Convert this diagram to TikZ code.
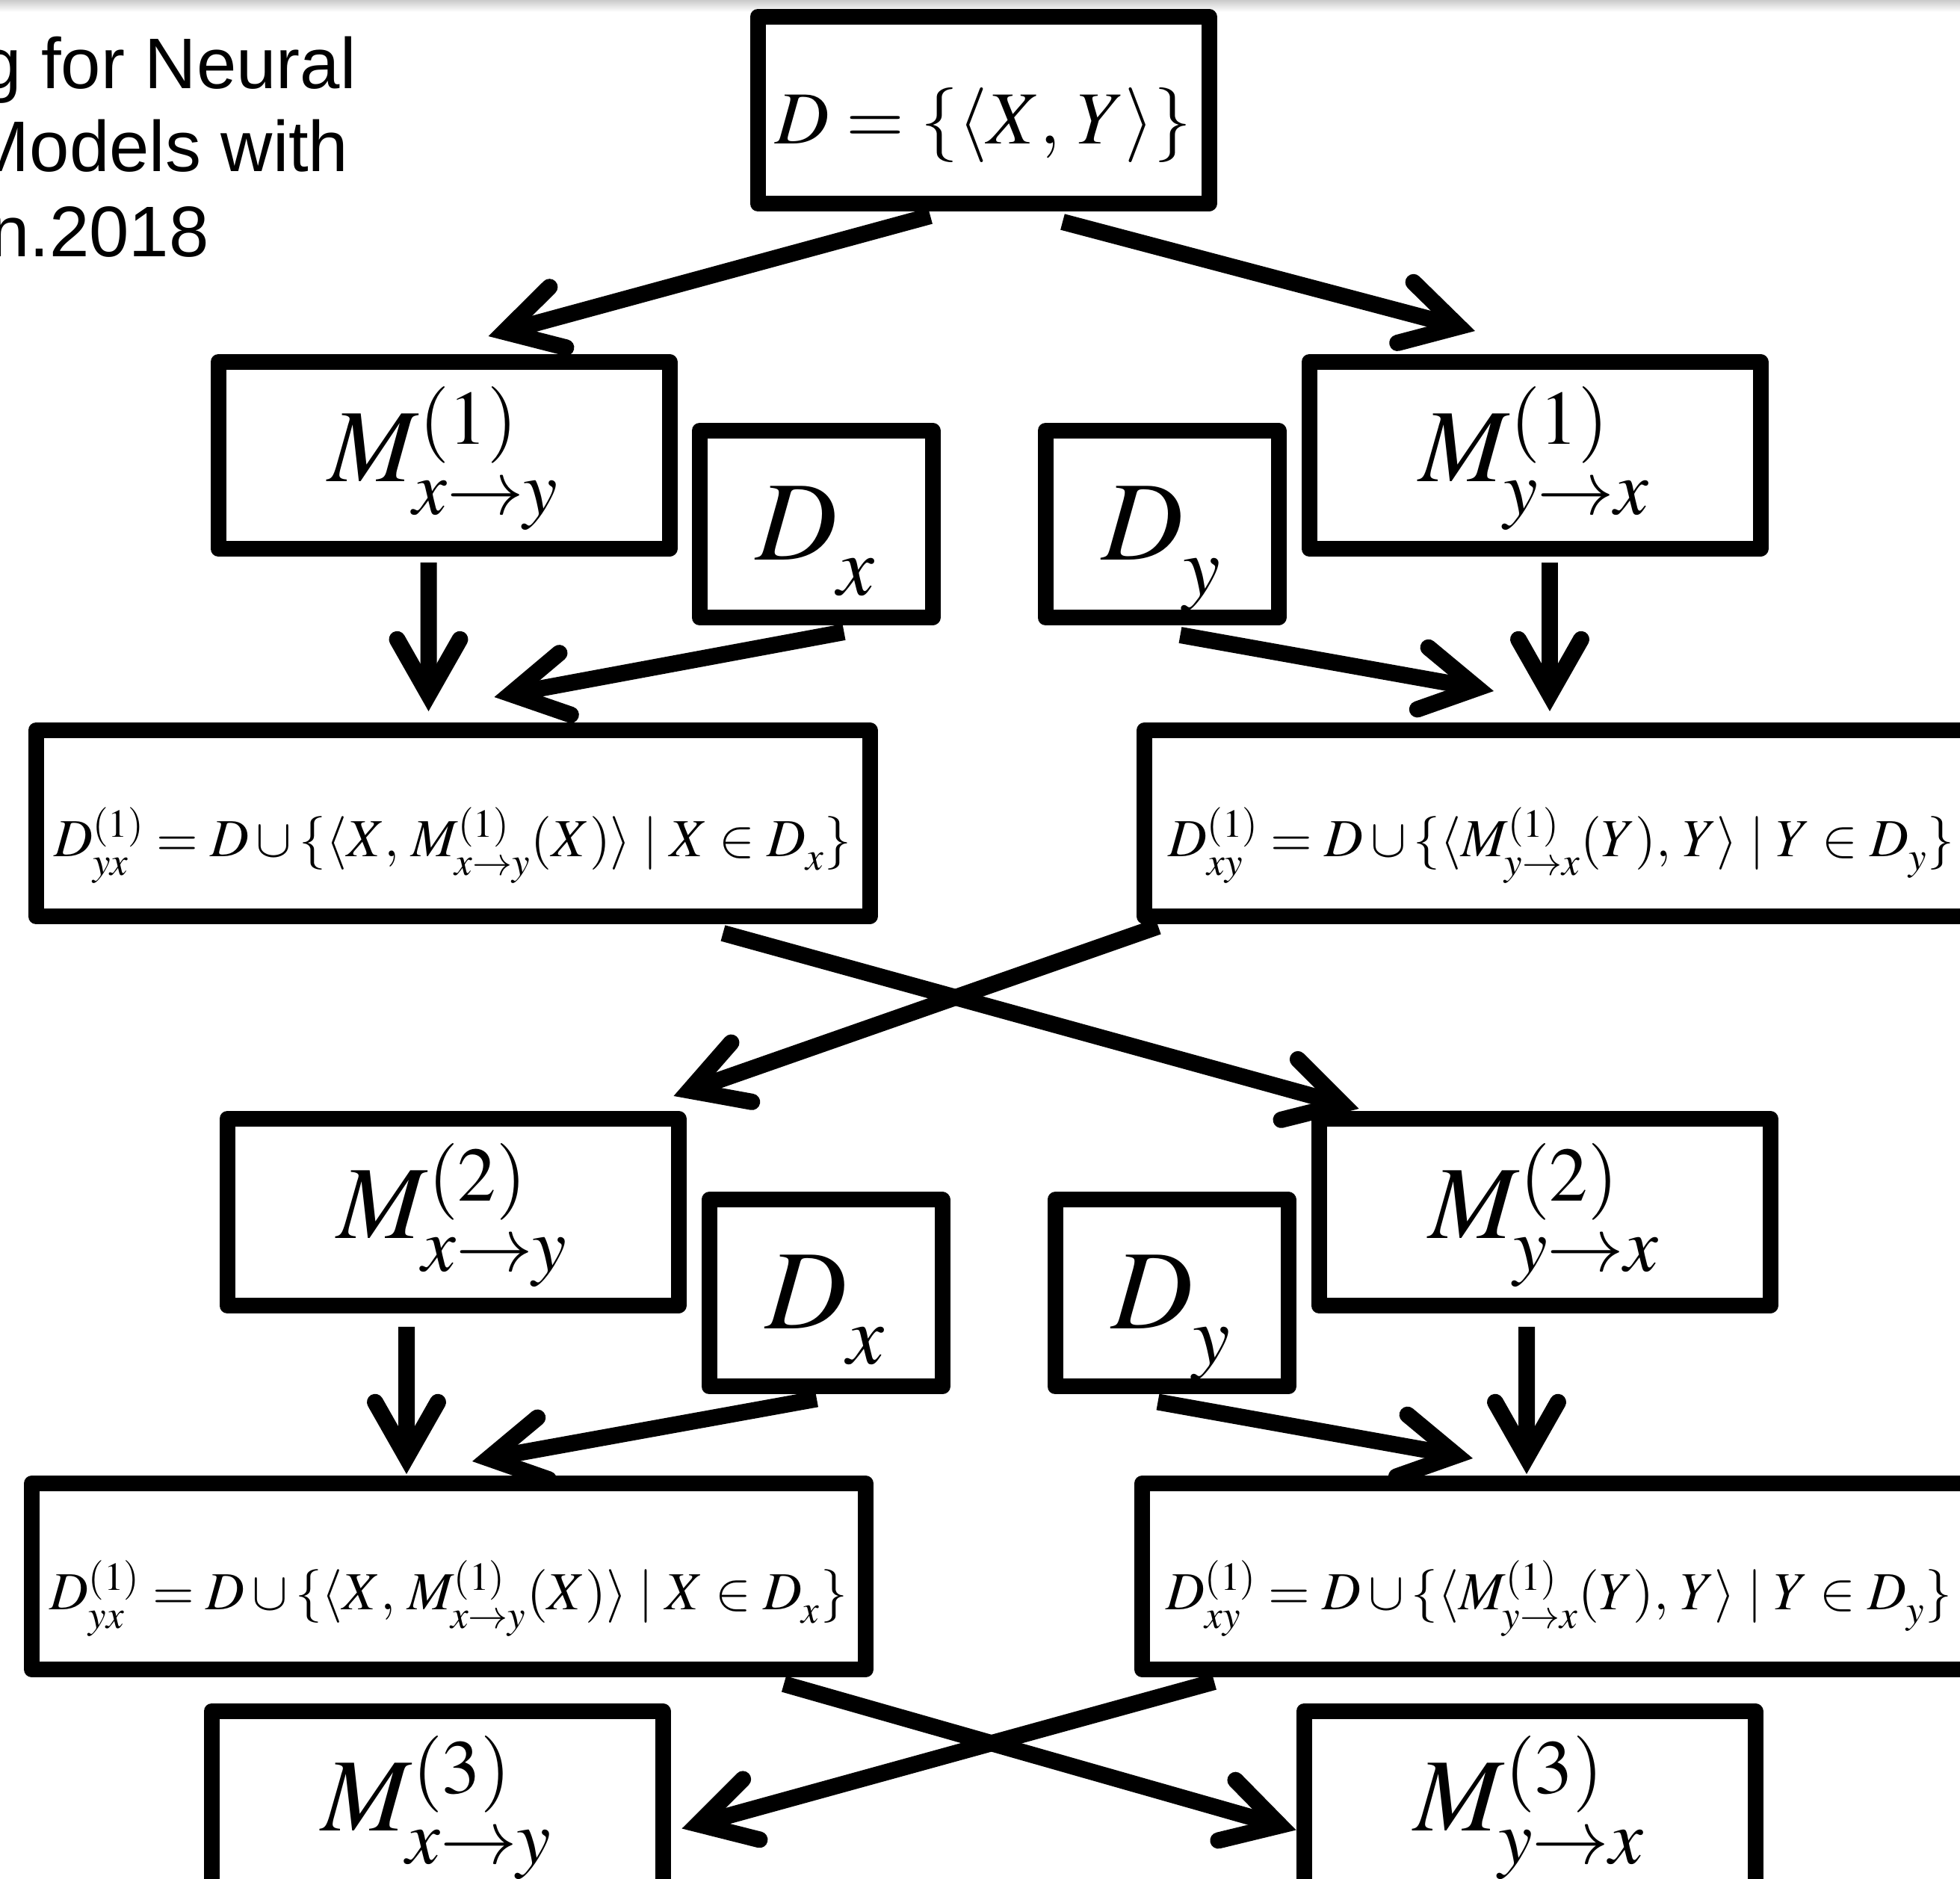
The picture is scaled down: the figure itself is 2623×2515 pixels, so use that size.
\documentclass[tikz,border=0pt]{standalone}
\usepackage{mathptmx}
\usepackage{fontspec}
\newfontfamily\titlefont{Liberation Sans}
\usetikzlibrary{arrows.meta,positioning}
\definecolor{shadow}{HTML}{CACACA}
\newcommand\lowsub[2][0.07em]{\raisebox{-#1}{$\scriptstyle #2$}}

\begin{document}
\begin{tikzpicture}[x=0.1mm,y=-0.1mm,every node/.style={line width=2.1mm,line join=round,inner sep=0pt},
  mbox/.style={draw,minimum width=60.4mm,minimum height=25mm,text height=13mm,text depth=6mm,font=\fontsize{39.5}{44}\selectfont},
  dbox/.style={draw,minimum width=31.2mm,minimum height=25mm,text height=13.9mm,text depth=4.3mm,font=\fontsize{43}{48}\selectfont},
  setbox/.style={draw,minimum width=111.6mm,minimum height=24.9mm,text height=11.8mm,text depth=2.8mm,font=\fontsize{20.4}{25}\selectfont},
  title/.style={anchor=base east,font=\titlefont\fontsize{27.3}{32}\selectfont},
  flow/.style={line width=2.2mm,-{Straight Barb[length=7.4mm,width=8.4mm,line cap=round,line join=miter]}}]
\useasboundingbox (0,0) rectangle (2623,2515);
\clip (0,0) rectangle (2623,2515);
\shade[top color=shadow,bottom color=white] (0,0) rectangle (2623,16);
\node[title] (t1) at (487,119) {g for Neural};
\node[title] (t2) at (477,230) {Models with};
\node[title] (t3) at (290,343) {n.2018};
\node[mbox,text height=11.6mm,text depth=2.5mm,font=\fontsize{28.5}{32}\selectfont] (D) at (1316,147.5) {$D=\{\langle X,\,Y\rangle\}$};
\node[mbox,below left=1.91cm and 0.97cm of D] (Mxy1) {$M^{(1)}_{\lowsub{x\to y}}$};
\node[mbox,below right=1.91cm and 1.13cm of D] (Myx1) {$M^{(1)}_{\lowsub{y\to x}}$};
\node[dbox,right=0.19cm of Mxy1,yshift=-0.92cm] (Dx1) {$D_{\lowsub[0.16em]{x}}$};
\node[dbox,left=0.2cm of Myx1,yshift=-0.92cm] (Dy1) {$D_{\lowsub[0.16em]{y}}$};
\node[setbox,below=2.22cm of Mxy1,xshift=0.12cm] (Dyx1) {$D^{(1)}_{\lowsub[0.1em]{yx}}=D\cup\{\langle X,\,M^{(1)}_{\lowsub[0.1em]{x\to y}}(X)\rangle\mid X\in D_{\lowsub[0.1em]{x}}\}$};
\node[setbox,below=2.22cm of Myx1,xshift=0.355cm] (Dxy1) {$D^{(1)}_{\lowsub[0.1em]{xy}}=D\cup\{\langle M^{(1)}_{\lowsub[0.1em]{y\to x}}(Y),\,Y\rangle\mid Y\in D_{\lowsub[0.1em]{y}}\}$};
\node[mbox,below=2.5cm of Dyx1] (Mxy2) {$M^{(2)}_{\lowsub{x\to y}}$};
\node[mbox,below=2.5cm of Dxy1,xshift=-0.225cm] (Myx2) {$M^{(2)}_{\lowsub{y\to x}}$};
\node[dbox,right=0.2cm of Mxy2,yshift=-1.085cm] (Dx2) {$D_{\lowsub[0.16em]{x}}$};
\node[dbox,left=0.2cm of Myx2,yshift=-1.085cm] (Dy2) {$D_{\lowsub[0.16em]{y}}$};
\node[setbox,below=2.17cm of Mxy2,xshift=-0.055cm] (Dyx2) {$D^{(1)}_{\lowsub[0.1em]{yx}}=D\cup\{\langle X,\,M^{(1)}_{\lowsub[0.1em]{x\to y}}(X)\rangle\mid X\in D_{\lowsub[0.1em]{x}}\}$};
\node[setbox,below=2.17cm of Myx2,xshift=0.195cm] (Dxy2) {$D^{(1)}_{\lowsub[0.1em]{xy}}=D\cup\{\langle M^{(1)}_{\lowsub[0.1em]{y\to x}}(Y),\,Y\rangle\mid Y\in D_{\lowsub[0.1em]{y}}\}$};
\node[mbox,below=0.35cm of Dyx2,xshift=-0.155cm] (Mxy3) {$M^{(3)}_{\lowsub{x\to y}}$};
\node[mbox,below=0.35cm of Dxy2,xshift=-0.395cm] (Myx3) {$M^{(3)}_{\lowsub{y\to x}}$};
\draw[flow] ([xshift=-0.71cm,yshift=-0.06cm]D.south)--([xshift=0.595cm,yshift=0.24cm]Mxy1.north);\draw[flow] ([xshift=1.06cm,yshift=-0.14cm]D.south)--([xshift=-0.8cm,yshift=0.31cm]Myx1.north);
\draw[flow] ([xshift=-0.205cm,yshift=-0.08cm]Mxy1.south)--([xshift=-0.325cm,yshift=0.15cm]Dyx1.north);\draw[flow] ([xshift=0.375cm,yshift=-0.09cm]Dx1.south)--([xshift=0.555cm,yshift=0.34cm]Dyx1.north);
\draw[flow] ([xshift=0.2cm,yshift=-0.08cm]Myx1.south)--([xshift=-0.155cm,yshift=0.15cm]Dxy1.north);\draw[flow] ([xshift=0.245cm,yshift=-0.13cm]Dy1.south)--([xshift=-0.905cm,yshift=0.42cm]Dxy1.north);
\draw[flow] ([xshift=-2.07cm,yshift=-0.12cm]Dyx1.south east)--([xshift=0.64cm,yshift=0.03cm]Myx2.north west);\draw[flow] ([xshift=0.29cm,yshift=-0.03cm]Dxy1.south west)--([xshift=-0.17cm,yshift=0.2cm]Mxy2.north east);
\draw[flow] ([xshift=-0.62cm,yshift=-0.18cm]Mxy2.south)--([xshift=-0.565cm,yshift=0.02cm]Dyx2.north);\draw[flow] ([xshift=-0.12cm,yshift=-0.06cm]Dx2.south)--([xshift=0.315cm,yshift=0.19cm]Dyx2.north);
\draw[flow] ([xshift=-0.24cm,yshift=-0.18cm]Myx2.south)--([xshift=-0.435cm,yshift=0.02cm]Dxy2.north);\draw[flow] ([xshift=-0.185cm,yshift=-0.1cm]Dy2.south)--([xshift=-1.155cm,yshift=0.23cm]Dxy2.north);
\draw[flow] ([xshift=-1.2cm,yshift=-0.09cm]Dyx2.south east)--([yshift=-0.34cm]Myx3.west);\draw[flow] ([xshift=1.07cm,yshift=-0.06cm]Dxy2.south west)--([xshift=0.15cm,yshift=-0.32cm]Mxy3.east);
\end{tikzpicture}
\end{document}
